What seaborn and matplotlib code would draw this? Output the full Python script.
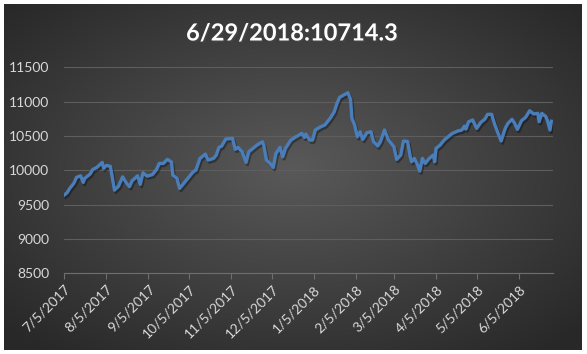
import numpy as np
import pandas as pd
import matplotlib
matplotlib.use("Agg")
import matplotlib.pyplot as plt
import matplotlib.dates as mdates
import matplotlib.patheffects as pe
import seaborn as sns

# values
dates = [
    "2017-07-05", "2017-07-07", "2017-07-09", "2017-07-12", "2017-07-14", "2017-07-17",
    "2017-07-19", "2017-07-20", "2017-07-24", "2017-07-26", "2017-07-29", "2017-08-02",
    "2017-08-03", "2017-08-05", "2017-08-08", "2017-08-11", "2017-08-14", "2017-08-17",
    "2017-08-20", "2017-08-22", "2017-08-24", "2017-08-28", "2017-08-30", "2017-09-01",
    "2017-09-04", "2017-09-08", "2017-09-11", "2017-09-13", "2017-09-16", "2017-09-19",
    "2017-09-22", "2017-09-23", "2017-09-26", "2017-09-28", "2017-09-30", "2017-10-03",
    "2017-10-06", "2017-10-08", "2017-10-10", "2017-10-13", "2017-10-17", "2017-10-19",
    "2017-10-23", "2017-10-25", "2017-10-27", "2017-10-29", "2017-11-01", "2017-11-06",
    "2017-11-08", "2017-11-10", "2017-11-13", "2017-11-16", "2017-11-18", "2017-11-21",
    "2017-11-24", "2017-11-28", "2017-11-29", "2017-12-01", "2017-12-04", "2017-12-06",
    "2017-12-08", "2017-12-11", "2017-12-13", "2017-12-15", "2017-12-19", "2017-12-22",
    "2017-12-25", "2017-12-27", "2017-12-29", "2017-12-30", "2018-01-02", "2018-01-04",
    "2018-01-06", "2018-01-10", "2018-01-13", "2018-01-15", "2018-01-17", "2018-01-20",
    "2018-01-22", "2018-01-24", "2018-01-27", "2018-01-30", "2018-02-01", "2018-02-02",
    "2018-02-04", "2018-02-06", "2018-02-08", "2018-02-10", "2018-02-13", "2018-02-16",
    "2018-02-18", "2018-02-21", "2018-02-23", "2018-02-26", "2018-03-01", "2018-03-05",
    "2018-03-07", "2018-03-10", "2018-03-12", "2018-03-15", "2018-03-17", "2018-03-18",
    "2018-03-20", "2018-03-22", "2018-03-24", "2018-03-26", "2018-03-28", "2018-03-31",
    "2018-04-03", "2018-04-04", "2018-04-05", "2018-04-08", "2018-04-11", "2018-04-14",
    "2018-04-17", "2018-04-21", "2018-04-24", "2018-04-26", "2018-04-27", "2018-04-29",
    "2018-05-02", "2018-05-05", "2018-05-08", "2018-05-11", "2018-05-13", "2018-05-16",
    "2018-05-18", "2018-05-20", "2018-05-23", "2018-05-26", "2018-05-28", "2018-05-31",
    "2018-06-02", "2018-06-04", "2018-06-07", "2018-06-10", "2018-06-13", "2018-06-16",
    "2018-06-19", "2018-06-20", "2018-06-22", "2018-06-25", "2018-06-26", "2018-06-28",
    "2018-06-29",
]
values = [
    9640, 9672, 9736, 9810, 9897, 9920,
    9824, 9882, 9945, 10013, 10042, 10115,
    10028, 10071, 10057, 9711, 9770, 9905,
    9810, 9760, 9847, 9920, 9795, 9964,
    9915, 9938, 10012, 10100, 10100, 10159,
    10120, 9930, 9882, 9736, 9784, 9857,
    9930, 9978, 10003, 10173, 10236, 10149,
    10173, 10222, 10334, 10353, 10455, 10465,
    10305, 10334, 10270, 10115, 10270, 10319,
    10367, 10415, 10367, 10149, 10090, 10042,
    10246, 10334, 10197, 10319, 10440, 10479,
    10513, 10538, 10479, 10528, 10440, 10440,
    10586, 10634, 10659, 10707, 10757, 10853,
    10975, 11063, 11096, 11130, 11033, 10757,
    10659, 10488, 10561, 10450, 10547, 10561,
    10415, 10353, 10415, 10586, 10440, 10340,
    10159, 10222, 10426, 10420, 10197, 10124,
    10173, 10100, 9988, 10173, 10100, 10173,
    10222, 10124, 10319, 10367, 10440, 10488,
    10538, 10572, 10586, 10644, 10600, 10707,
    10732, 10610, 10697, 10746, 10815, 10815,
    10683, 10576, 10426, 10610, 10683, 10742,
    10683, 10596, 10722, 10771, 10867, 10820,
    10829, 10707, 10829, 10780, 10732, 10586,
    10714.3,
]
title = "6/29/2018:10714.3"
y_ticks = [8500, 9000, 9500, 10000, 10500, 11000, 11500]
tick_dates = pd.date_range("2017-07-01", "2018-06-01", freq="MS") + pd.Timedelta(days=4)

df = pd.DataFrame({"date": pd.to_datetime(dates), "value": values})

W, H = 587, 354
fig = plt.figure(figsize=(W / 100, H / 100), dpi=100, facecolor="white")
plt.rcParams["font.family"] = ["Lato", "DejaVu Sans"]

# dark radial-gradient chart area
bg = fig.add_axes([4 / W, 4 / H, 578 / W, 346 / H])
gx, gy = np.meshgrid(np.linspace(-1, 1, 400), np.linspace(-1, 1, 240))
r = np.sqrt(gx ** 2 + (gy + 0.05) ** 2)
shade = 0.35 - 0.19 * np.clip(r / 1.35, 0, 1)
bg.imshow(np.dstack([shade] * 3), aspect="auto", extent=[0, 1, 0, 1])
bg.set_axis_off()

ax = fig.add_axes([64.3 / W, 80.7 / H, 488.4 / W, 206 / H])
ax.patch.set_alpha(0)

sns.lineplot(data=df, x="date", y="value", ax=ax, color="#4a7ebb", linewidth=2.4,
             path_effects=[pe.SimpleLineShadow(offset=(1, -1.5), alpha=0.35), pe.Normal()])

ax.set_xlim(mdates.date2num(pd.Timestamp("2017-07-05")),
            mdates.date2num(pd.Timestamp("2018-06-30")))
ax.set_ylim(8500, 11500)
ax.set_yticks(y_ticks)
ax.set_yticklabels([str(t) for t in y_ticks])
ax.grid(axis="y", color="#5e5e5e", linewidth=0.8)
ax.grid(axis="x", visible=False)
ax.set_axisbelow(True)

ax.set_xticks(mdates.date2num(tick_dates))
ax.set_xticklabels([f"{d.month}/{d.day}/{d.year}" for d in tick_dates],
                   rotation=45, ha="right", rotation_mode="anchor")

for s in ["top", "right", "left"]:
    ax.spines[s].set_visible(False)
ax.spines["bottom"].set_color("#6e6e6e")
ax.spines["bottom"].set_linewidth(0.8)
ax.tick_params(axis="y", length=0, pad=11, labelsize=10, labelcolor="#d9d9d9")
ax.tick_params(axis="x", length=4, width=0.8, color="#6e6e6e", pad=3,
               labelsize=10, labelcolor="#d9d9d9")
ax.set_xlabel("")
ax.set_ylabel("")

fig.text(292 / W, 1 - 33 / H, title, ha="center", va="center", color="white",
         fontsize=17, fontweight="bold",
         path_effects=[pe.withSimplePatchShadow(offset=(1, -1), alpha=0.5)])

fig.savefig("out.png", dpi=100, facecolor="white")
